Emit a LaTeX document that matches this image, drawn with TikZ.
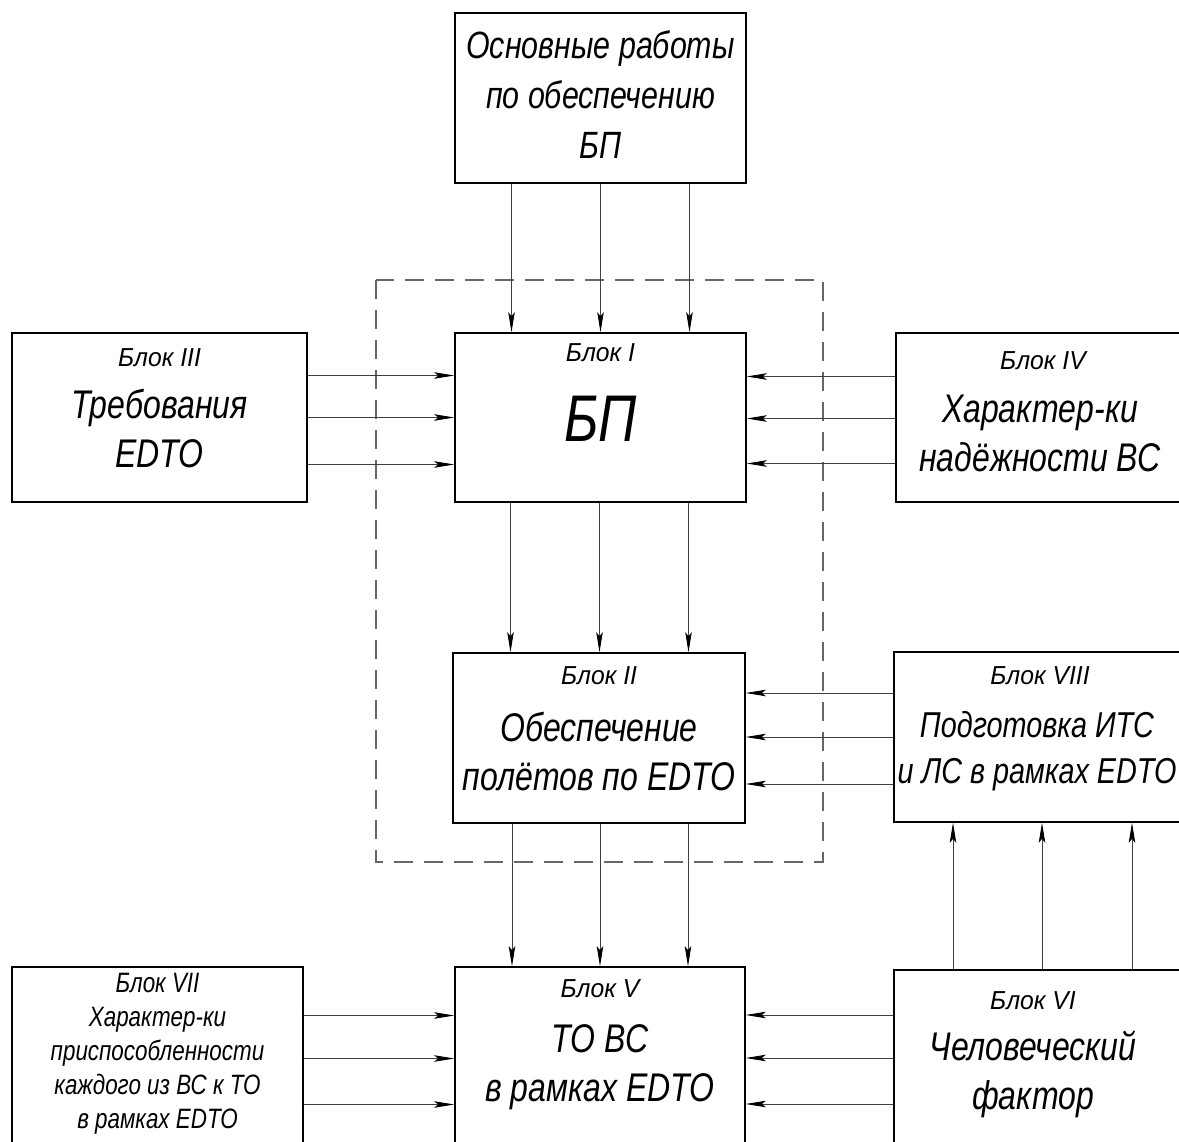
\documentclass[tikz,border=0pt]{standalone}
\usepackage{fontspec}
\setmainfont{Liberation Sans}[FakeStretch=0.8]
\newfontfamily\headfont{Liberation Sans}[FakeStretch=0.95]
\usetikzlibrary{arrows.meta,positioning}

\begin{document}
\begin{tikzpicture}[x=1pt, y=-1pt,
  blok/.style={draw, line width=1.6pt, inner sep=0pt, minimum width=291pt, minimum height=170pt},
  head/.style={font=\headfont\fontsize{26}{30}\selectfont\itshape, anchor=base, inner sep=0pt},
  txt/.style={font=\fontsize{40}{49}\selectfont\itshape, align=center, inner sep=0pt},
  arr/.style={-{Stealth[length=20pt, width=6.5pt, inset=4pt, color=black]}, line width=0.8pt, black!75},
  frame/.style={dash pattern=on 19pt off 11pt, line width=1.1pt, black!60}]
  \useasboundingbox (0,0) rectangle (1179,1142);
  \fill[white] (0,0) rectangle (1179,1142);
  \begin{scope}
  \clip (0,0) rectangle (1179,1142);

  % dashed frame round blocks I and II
  \draw[frame] (376,280) rectangle (823,862);

  % blocks
  \node[blok] (works) at (600.5,98) {};
  \node[blok, minimum height=169pt] (b1) at (600.5,417.5) {};
  \node[blok, minimum width=292pt] (b2) at (599,738) {};
  \node[blok, minimum width=295pt, minimum height=169pt] (b3) at (159.5,417.5) {};
  \node[blok, minimum width=294pt, minimum height=169pt] (b4) at (1043,417.5) {};
  \node[blok, minimum width=290pt, minimum height=183pt] (b5) at (600,1058.5) {};
  \node[blok, minimum width=296pt, minimum height=180pt] (b6) at (1042,1060) {};
  \node[blok, minimum height=183pt] (b7) at (157.5,1058.5) {};
  \node[blok, minimum width=296pt] (b8) at (1042,737) {};

  % texts
  \node[txt, font=\fontsize{38}{50}\selectfont\itshape] (works-t) at ([yshift=3.5pt]works.center) {Основные работы\\по обеспечению\\БП};

  \node[head] (b1-h) at ([yshift=-29pt]b1.north) {Блок I};
  \node[txt, font=\fontsize{66}{68}\selectfont\itshape] (b1-t) at ([yshift=-1.5pt]b1.center) {БП};

  \node[head] (b2-h) at ([yshift=-32pt]b2.north) {Блок II};
  \node[txt] (b2-t) at ([yshift=-13.5pt]b2.center) {Обеспечение\\полётов по EDTO};

  \node[head] (b3-h) at ([yshift=-34pt]b3.north) {Блок III};
  \node[txt] (b3-t) at ([yshift=-11.5pt]b3.center) {Требования\\EDTO};

  \node[head] (b4-h) at ([yshift=-37pt]b4.north) {Блок IV};
  \node[txt] (b4-t) at ([xshift=-3pt, yshift=-16pt]b4.center) {Характер-ки\\надёжности ВС};

  \node[head] (b5-h) at ([yshift=-31pt]b5.north) {Блок V};
  \node[txt] (b5-t) at ([yshift=-9pt]b5.center) {ТО ВС\\в рамках EDTO};

  \node[head] (b6-h) at ([xshift=-9pt, yshift=-40pt]b6.north) {Блок VI};
  \node[txt] (b6-t) at ([xshift=-9pt, yshift=-14pt]b6.center) {Человеческий\\фактор};

  \node[txt, font=\fontsize{28}{34}\selectfont\itshape] (b7-t) at ([yshift=5pt]b7.center) {Блок VII\\Характер-ки\\приспособленности\\каждого из ВС к ТО\\в рамках EDTO};

  \node[head] (b8-h) at ([xshift=-2pt, yshift=-33pt]b8.north) {Блок VIII};
  \node[txt, font=\fontsize{36}{46}\selectfont\itshape] (b8-t) at ([xshift=-5pt, yshift=-14pt]b8.center) {Подготовка ИТС\\и ЛС в рамках EDTO};

  % connectors
  \foreach \dx in {-89,0,89}
    \draw[arr] ([xshift=\dx pt]works.south) -- ([xshift=\dx pt]works.south |- b1.north);
  \foreach \dx in {-90,-1,88}
    \draw[arr] ([xshift=\dx pt]b1.south) -- ([xshift=\dx pt]b1.south |- b2.north);
  \foreach \dx in {-87,1,89}
    \draw[arr] ([xshift=\dx pt]b2.south) -- ([xshift=\dx pt]b2.south |- b5.north);
  \foreach \dy in {42,0,-47}
    \draw[arr] ([yshift=\dy pt]b3.east) -- ([yshift=\dy pt]b3.east -| b1.west);
  \foreach \dy in {41,-1,-46}
    \draw[arr] ([yshift=\dy pt]b4.west) -- ([yshift=\dy pt]b4.west -| b1.east);
  \foreach \dy in {44,0,-47}
    \draw[arr] ([yshift=\dy pt]b8.west) -- ([yshift=\dy pt]b8.west -| b2.east);
  \foreach \dy in {43,0,-46}
    \draw[arr] ([yshift=\dy pt]b7.east) -- ([yshift=\dy pt]b7.east -| b5.west);
  \foreach \dy in {45,2,-44}
    \draw[arr] ([yshift=\dy pt]b6.west) -- ([yshift=\dy pt]b6.west -| b5.east);
  \foreach \dx in {-89,0,90}
    \draw[arr] ([xshift=\dx pt]b6.north) -- ([xshift=\dx pt]b6.north |- b8.south);
  \end{scope}
\end{tikzpicture}
\end{document}
